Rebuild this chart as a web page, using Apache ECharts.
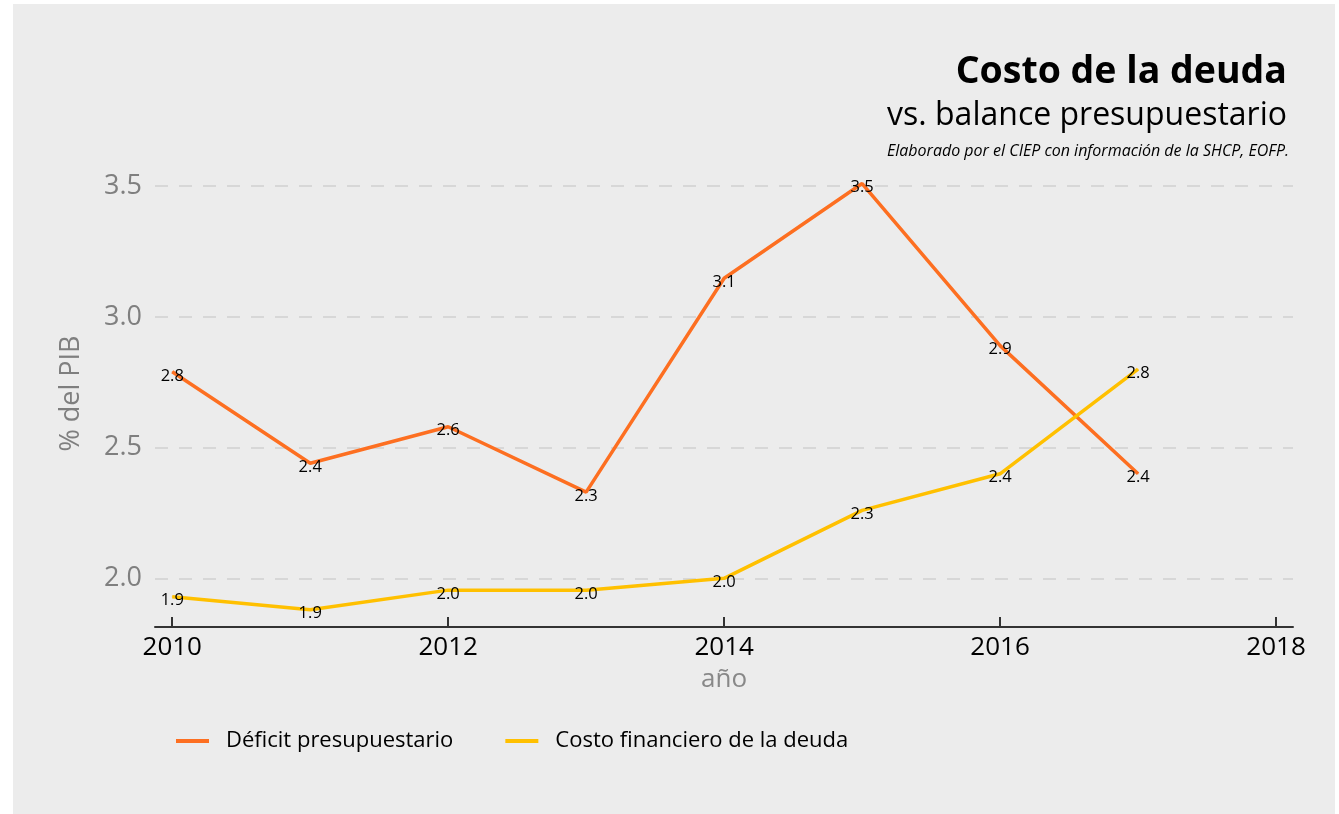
<!DOCTYPE html>
<html>
<head>
<meta charset="utf-8">
<script src="https://cdn.jsdelivr.net/npm/echarts@6/dist/echarts.min.js"></script>
<style>
  body { margin: 0; background: #ffffff; }
  #main { position: absolute; left: 13px; top: 4px; width: 1322px; height: 810px; background: #ececec; }
</style>
</head>
<body>
<div id="main"></div>
<script>
// datos
var years = [2010, 2011, 2012, 2013, 2014, 2015, 2016, 2017];
var deficit = [2.79, 2.44, 2.58, 2.33, 3.148, 3.51, 2.89, 2.40];
var costo = [1.93, 1.88, 1.955, 1.955, 2.00, 2.26, 2.40, 2.80];
var xTicks = [2010, 2012, 2014, 2016, 2018];
var yTicks = [2.0, 2.5, 3.0, 3.5];

var font = 'Open Sans';
var myChart = echarts.init(document.getElementById('main'));

function pares(vals) {
  return years.map(function (y, i) { return [y, vals[i]]; });
}

var etiqueta = {
  show: true,
  position: 'inside',
  offset: [0, 4],
  color: '#000',
  fontFamily: font,
  fontSize: 16.5,
  formatter: function (p) { return p.value[1].toFixed(1); }
};

var option = {
  animation: false,
  textStyle: { fontFamily: font },
  title: [{
    text: 'Costo de la deuda',
    right: 43,
    top: 44,
    textStyle: { fontFamily: font, fontSize: 37.5, fontWeight: 'bold', color: '#000' }
  }, {
    text: 'vs. balance presupuestario',
    right: 43,
    top: 91,
    textStyle: { fontFamily: font, fontSize: 32, fontWeight: 'normal', color: '#000' }
  }, {
    text: 'Elaborado por el CIEP con información de la SHCP, EOFP.',
    right: 41,
    top: 134,
    textStyle: { fontFamily: font, fontSize: 16, fontStyle: 'italic', fontWeight: 'normal', color: '#000' }
  }],
  legend: {
    left: 158,
    top: 721,
    icon: 'rect',
    itemWidth: 33,
    itemHeight: 4,
    itemGap: 52,
    textStyle: { fontFamily: font, fontSize: 22, color: '#000', padding: [0, 0, 0, 12] },
    data: ['Déficit presupuestario', 'Costo financiero de la deuda']
  },
  grid: {
    left: 142,
    right: 42,
    top: 156,
    bottom: 187
  },
  xAxis: {
    type: 'value',
    min: 2009.875,
    max: 2018.123,
    name: 'año',
    nameLocation: 'middle',
    nameGap: 40,
    nameTextStyle: { fontFamily: font, fontSize: 26, color: '#888' },
    axisLine: { show: true, lineStyle: { color: '#333', width: 2 } },
    axisTick: { show: true, inside: true, length: 10, customValues: xTicks, lineStyle: { color: '#333', width: 2 } },
    axisLabel: {
      customValues: xTicks, margin: 8, fontFamily: font, fontSize: 26, color: '#000',
      formatter: function (v) { return String(v); }
    },
    splitLine: { show: false }
  },
  yAxis: {
    type: 'value',
    min: 1.814,
    max: 3.6,
    name: '% del PIB',
    nameLocation: 'middle',
    nameRotate: 90,
    nameGap: 70,
    nameTextStyle: { fontFamily: font, fontSize: 27, color: '#7f7f7f' },
    axisLine: { show: false },
    axisTick: { show: false, customValues: yTicks },
    axisLabel: {
      customValues: yTicks, margin: 13, fontFamily: font, fontSize: 27, color: '#7f7f7f',
      formatter: function (v) { return v.toFixed(1); }
    },
    splitLine: { show: true, lineStyle: { color: '#d0d0d0', width: 1.5, type: [13, 11] } }
  },
  series: [{
    name: 'Déficit presupuestario',
    type: 'line',
    data: pares(deficit),
    symbol: 'circle',
    symbolSize: 1,
    showSymbol: true,
    color: '#fd6f21',
    lineStyle: { width: 3.5, color: '#fd6f21' },
    label: etiqueta
  }, {
    name: 'Costo financiero de la deuda',
    type: 'line',
    data: pares(costo),
    symbol: 'circle',
    symbolSize: 1,
    showSymbol: true,
    color: '#ffc000',
    lineStyle: { width: 3.5, color: '#ffc000' },
    label: etiqueta
  }]
};
myChart.setOption(option);
</script>
</body>
</html>
